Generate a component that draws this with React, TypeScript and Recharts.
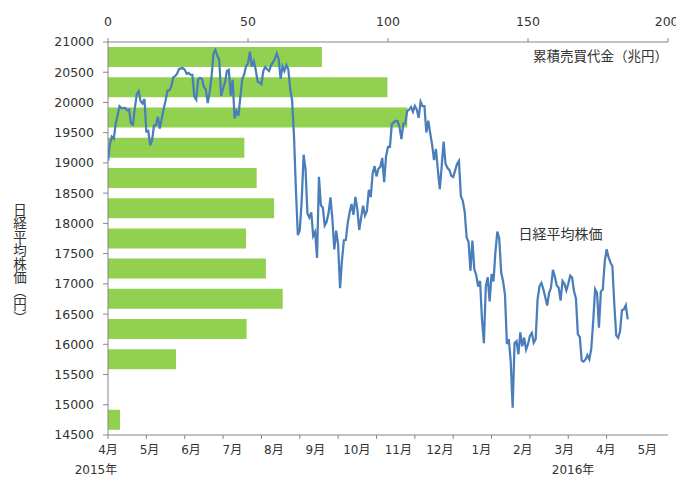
import React from 'react';
import {
  ComposedChart, Bar, Scatter, XAxis, YAxis, ReferenceDot,
} from 'recharts';

// Nikkei 225 daily closes (Apr 2015 – May 2016)
const nikkeiCloses = [
  // 2015-04
  19034, 19312, 19435, 19397, 19640, 19789, 19937, 19907, 19905, 19908, 19869, 19885, 19652, 19634, 19909, 20133, 20187, 20020, 19983, 20058, 19520,
  // 2015-05
  19531, 19291, 19379, 19620, 19624, 19764, 19570, 19732, 19890, 20026, 20196, 20202, 20264, 20413, 20437, 20472, 20551, 20563,
  // 2015-06
  20569, 20543, 20473, 20488, 20460, 20457, 20096, 20046, 20382, 20407, 20387, 20257, 20219, 19990, 20174, 20428, 20809, 20868, 20771, 20706, 20109, 20235,
  // 2015-07
  20329, 20522, 20539, 20112, 20376, 19737, 19855, 19779, 20089, 20385, 20463, 20600, 20650, 20841, 20593, 20683, 20544, 20350, 20328, 20302, 20522, 20585,
  // 2015-08
  20548, 20520, 20614, 20664, 20724, 20808, 20720, 20392, 20595, 20519, 20620, 20554, 20222, 20033, 19435, 18540, 17806, 17888, 18376, 19136, 18890,
  // 2015-09
  18165, 18095, 18182, 17792, 17860, 17427, 18770, 18299, 18264, 17965, 18026, 18171, 18432, 18070, 17571, 17880, 17645, 16930, 17388,
  // 2015-10
  17722, 17725, 18005, 18186, 18322, 18141, 18438, 18234, 17891, 18096, 18291, 18131, 18207, 18554, 18435, 18825, 18947, 18777, 18903, 18935, 19083,
  // 2015-11
  18683, 19116, 19265, 19265, 19642, 19671, 19697, 19691, 19596, 19393, 19649, 19649, 19859, 19879, 19924, 19847, 19944, 19883, 19747,
  // 2015-12
  20012, 19938, 19939, 19504, 19698, 19492, 19301, 19046, 19230, 18883, 18565, 18946, 19353, 18986, 18916, 18886, 18789, 18769, 18873, 18982, 19033,
  // 2016-01
  18450, 18374, 18191, 17767, 17697, 17218, 17715, 17240, 17147, 16955, 17048, 16416, 16017, 16958, 17110, 16708, 17163, 17041, 17518,
  // 2016-02
  17865, 17750, 17191, 17044, 16819, 16004, 16085, 15713, 14952, 16022, 16054, 15836, 16196, 15967, 16111, 15915, 16002, 16140, 16188, 16026,
  // 2016-03
  16085, 16746, 16960, 17014, 16911, 16783, 16642, 16852, 16938, 17233, 17117, 16974, 16936, 16724, 17048, 17000, 16892, 17002, 17134, 17103, 16878, 16758,
  // 2016-04
  16164, 16123, 15732, 15715, 15749, 15821, 15751, 15928, 16381, 16911, 16848, 16275, 16874, 16906, 17363, 17572, 17440, 17353, 17290, 16666,
  // 2016-05
  16147, 16106, 16216, 16565, 16579, 16646, 16412,
];

// Price bands (centre of each 500-yen band) and cumulative trading value (trillion yen)
const bandMids = [20750, 20250, 19750, 19250, 18750, 18250, 17750, 17250, 16750, 16250, 15750, 15250, 14750];
const bandValues = [76.4, 99.8, 106.9, 48.7, 53.1, 59.3, 49.3, 56.4, 62.4, 49.5, 24.3, 0, 4.3];

const priceTicks = [14500, 15000, 15500, 16000, 16500, 17000, 17500, 18000, 18500, 19000, 19500, 20000, 20500, 21000];
const valueTicks = [0, 50, 100, 150, 200];
const dayTicks = [0, 20, 40, 60, 80, 100, 120, 140, 160, 180, 200, 220, 240, 260];
const monthLabels = ['4月', '5月', '6月', '7月', '8月', '9月', '10月', '11月', '12月', '1月', '2月', '3月', '4月', '5月'];
const yearLabels = ['2015年', '2016年'];
const yearAt = [0, 11.5];

const daily = nikkeiCloses.map((p, i) => ({ i, p }));
const bands = bandMids.map((mid, k) => ({ mid, v: bandValues[k] }));
const monthTickValues = [...monthLabels.map((_, k) => k), yearAt[1]];

const FONT = "'DejaVu Sans', 'Noto Sans CJK JP', sans-serif";
const JFONT = "'Noto Sans CJK JP', sans-serif";
const TEXT = '#333333';
const AXIS = '#868686';

function MonthTick(props: any) {
  const { x, y, payload } = props;
  const v = payload.value;
  const m = Number.isInteger(v) ? monthLabels[v] : null;
  const yi = yearAt.indexOf(v);
  return (
    <g>
      {m && (
        <text x={x} y={y} dy={13} textAnchor="middle" fill={TEXT} fontSize={12} fontFamily={FONT}>{m}</text>
      )}
      {yi >= 0 && (
        <text x={x - 12} y={y} dy={33} textAnchor="middle" fill={TEXT} fontSize={12} fontFamily={FONT}>{yearLabels[yi]}</text>
      )}
    </g>
  );
}

function YTitle(props: any) {
  const vb = props.viewBox || { x: 0, y: 0, width: 108, height: 393 };
  return (
    <text
      x={vb.x + 20}
      y={vb.y + vb.height / 2 + 25}
      textAnchor="middle"
      fill={TEXT}
      fontSize={13.5}
      fontFamily={JFONT}
      style={{ writingMode: 'vertical-rl' } as any}
    >
      日経平均株価（円）
    </text>
  );
}

function TopTitle(props: any) {
  const vb = props.viewBox || { x: 108, y: 0, width: 560, height: 42 };
  return (
    <text x={vb.x + vb.width} y={vb.y + vb.height + 19} textAnchor="end" fill={TEXT} fontSize={13.5} fontFamily={JFONT}>
      累積売買代金（兆円）
    </text>
  );
}

export default function App() {
  return (
    <div style={{ position: 'absolute', left: 0, top: 0, background: '#fff' }}>
      <ComposedChart
        width={676}
        height={480}
        layout="vertical"
        data={bands}
        margin={{ top: 0, right: 8, bottom: 0, left: 0 }}
      >
        <XAxis
          xAxisId="top"
          orientation="top"
          type="number"
          domain={[0, 200]}
          ticks={valueTicks}
          allowDataOverflow
          height={42}
          tickSize={4}
          tickMargin={12}
          stroke={AXIS}
          tick={{ fill: TEXT, fontSize: 12.5, fontFamily: FONT }}
          label={<TopTitle />}
        />
        <XAxis
          xAxisId="day"
          dataKey="i"
          orientation="bottom"
          type="number"
          domain={[0, 292]}
          ticks={dayTicks}
          interval={0}
          allowDataOverflow
          height={4}
          tickSize={4}
          stroke={AXIS}
          tick={() => <g />}
        />
        <XAxis
          xAxisId="mon"
          orientation="bottom"
          type="number"
          domain={[0, 13.5]}
          ticks={monthTickValues}
          interval={0}
          allowDataOverflow
          height={41}
          axisLine={false}
          tickLine={false}
          tickSize={0}
          tick={<MonthTick />}
        />
        <YAxis
          yAxisId="band"
          dataKey="mid"
          type="number"
          reversed
          domain={[14500, 21000]}
          ticks={priceTicks}
          interval={0}
          allowDataOverflow
          width={108}
          tickSize={5}
          tickMargin={9}
          stroke={AXIS}
          tick={{ fill: TEXT, fontSize: 12.5, fontFamily: FONT }}
          label={<YTitle />}
        />
        <YAxis
          yAxisId="price"
          dataKey="p"
          type="number"
          reversed
          domain={[14500, 21000]}
          allowDataOverflow
          hide
        />
        <Bar
          xAxisId="top"
          yAxisId="band"
          dataKey="v"
          fill="#92D050"
          barSize={20}
          isAnimationActive={false}
        />
        <Scatter
          xAxisId="day"
          yAxisId="price"
          data={daily}
          dataKey="p"
          line={{ stroke: '#4A7EBB', strokeWidth: 2.25 }}
          lineJointType="linear"
          shape={() => <g />}
          isAnimationActive={false}
        />
        <ReferenceDot
          xAxisId="day"
          yAxisId="price"
          x={236}
          y={17830}
          r={0}
          stroke="none"
          fill="none"
          label={{ value: '日経平均株価', position: 'center', fill: TEXT, fontSize: 14, fontFamily: JFONT }}
        />
      </ComposedChart>
    </div>
  );
}
